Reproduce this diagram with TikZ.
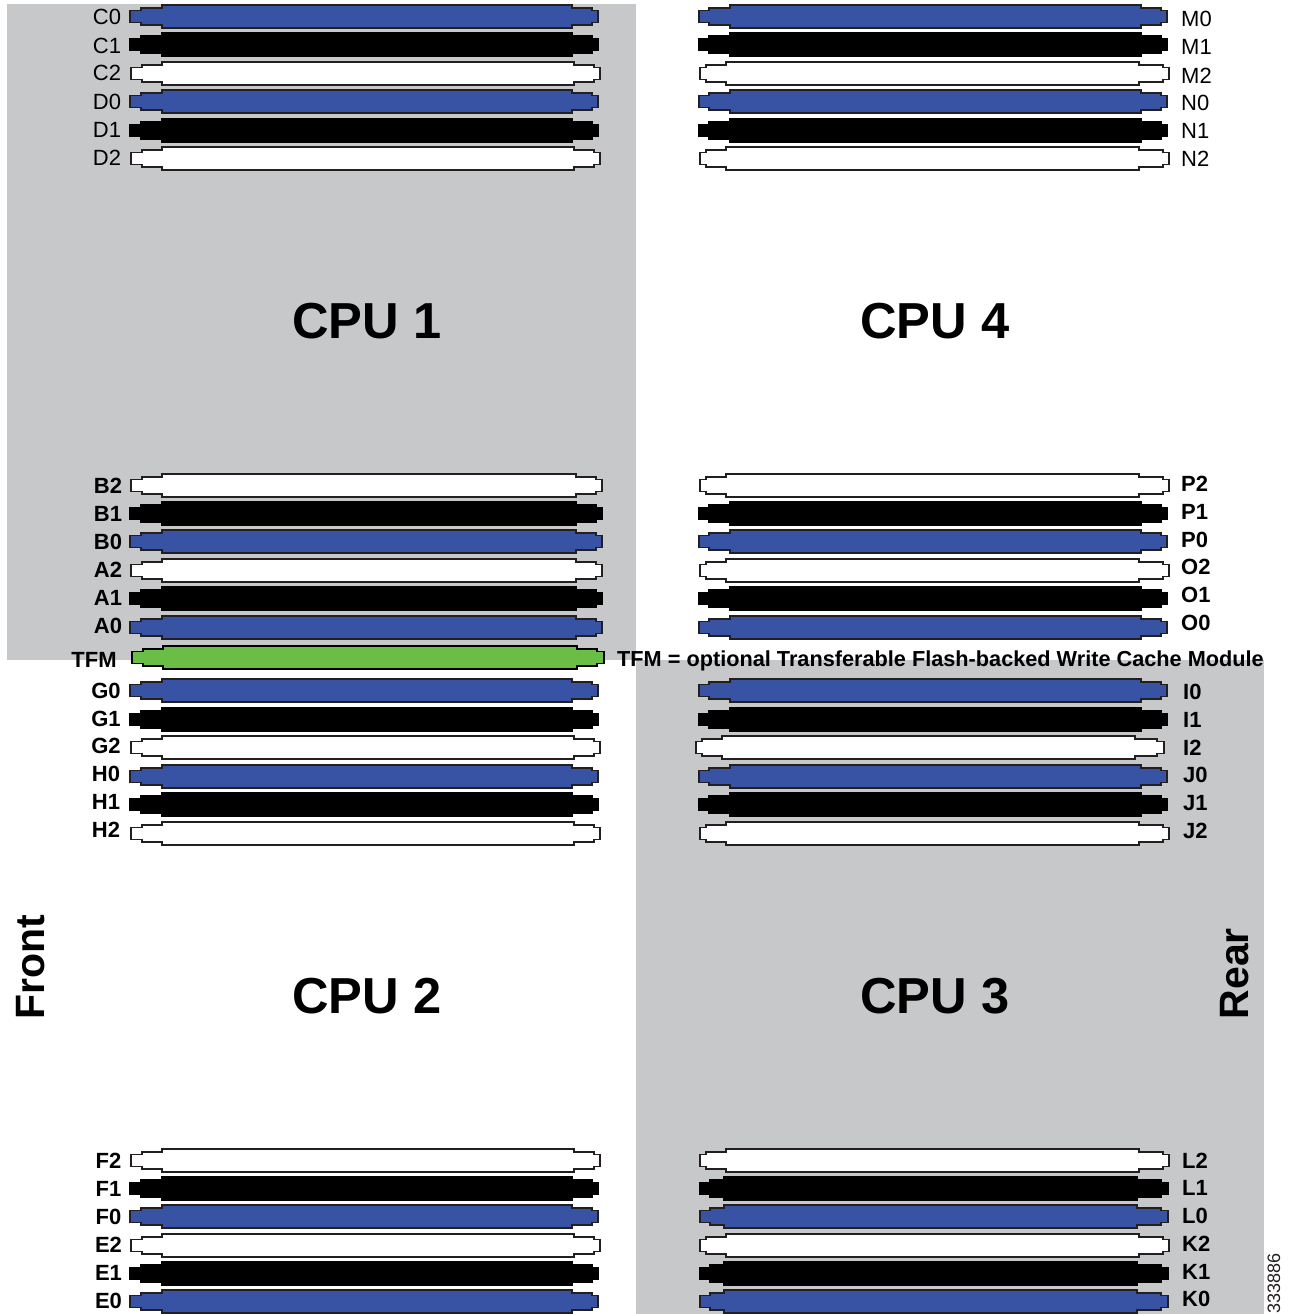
\documentclass[tikz,border=0pt]{standalone}
\usepackage{fontspec}
\setmainfont{Liberation Sans}
\definecolor{cpugray}{HTML}{C7C8CA}
\definecolor{dimmblue}{HTML}{3953A4}
\definecolor{dimmgreen}{HTML}{6ABD45}
\definecolor{dimmline}{HTML}{231F20}
\tikzset{
  dimmB/.style={fill=dimmblue,draw=dimmline,line width=1.3pt,line join=miter},
  dimmK/.style={fill=black,draw=black,line width=1.3pt,line join=miter},
  dimmW/.style={fill=white,draw=dimmline,line width=1.3pt,line join=miter},
  dimmG/.style={fill=dimmgreen,draw=black,line width=1.5pt,line join=miter},
  cpuzone/.style={fill=cpugray,draw=none},
  lblreg/.style={font=\fontsize{22}{22}\selectfont,inner sep=0pt,text=black},
  lblL/.style={font=\fontsize{22}{22}\selectfont\bfseries,inner sep=0pt,text=black},
  cputext/.style={font=\fontsize{50.6}{51}\selectfont\bfseries,inner sep=0pt,anchor=base west},
  sidetext/.style={font=\fontsize{41}{41}\selectfont\bfseries,inner sep=0pt,rotate=90,anchor=base west},
}
% style, y, tail-left, tail-end, mid-end (main start), main end, mid end, tail right
\newcommand{\dimmslot}[8]{%
  \path[#1] (#3,#2-5.5) -- (#4,#2-5.5) -- (#4,#2-8) -- (#5,#2-8) -- (#5,#2-11)
    -- (#6,#2-11) -- (#6,#2-8) -- (#7,#2-8) -- (#7,#2-5.5) -- (#8,#2-5.5)
    -- (#8,#2+6.5) -- (#7,#2+6.5) -- (#7,#2+9) -- (#6,#2+9) -- (#6,#2+12)
    -- (#5,#2+12) -- (#5,#2+9) -- (#4,#2+9) -- (#4,#2+6.5) -- (#3,#2+6.5) -- cycle;%
}
\begin{document}
\begin{tikzpicture}[x=1pt,y=-1pt]
\useasboundingbox (0,0) rectangle (1288,1314);
\fill[white] (0,0) rectangle (1288,1314);
\path[cpuzone] (7,4) rectangle (636,659.5);
\path[cpuzone] (636,659.5) rectangle (1264,1314);

% left column slots
\foreach \s/\y in {dimmB/16,dimmK/44,dimmB/101,dimmK/130,dimmB/690,dimmK/719,dimmB/776,dimmK/804,dimmK/1188,dimmB/1216,dimmK/1273,dimmB/1301}
  {\dimmslot{\s}{\y}{130}{141}{162}{572}{592}{598}}
\foreach \y in {73,158,747,833,1160,1245}
  {\dimmslot{dimmW}{\y}{131}{142}{162}{574}{594}{600}}
\foreach \s/\y in {dimmK/513,dimmB/541,dimmK/598,dimmB/627}
  {\dimmslot{\s}{\y}{130}{141}{162}{576}{596}{602}}
\foreach \y in {485,570}
  {\dimmslot{dimmW}{\y}{131}{142}{162}{576}{596}{602}}
\dimmslot{dimmG}{657}{132}{143}{163}{577}{597}{604}

% right column slots
\foreach \s/\y in {dimmB/16,dimmK/44,dimmB/101,dimmK/130,dimmB/541,dimmK/513,dimmK/598,dimmB/627,dimmB/690,dimmK/719,dimmB/776,dimmK/804}
  {\dimmslot{\s}{\y}{699}{709}{730}{1141}{1161}{1167}}
\foreach \y in {73,158,485,570,833}
  {\dimmslot{dimmW}{\y}{700}{706}{726}{1139}{1163}{1169}}
\dimmslot{dimmW}{747}{696}{702}{722}{1135}{1157}{1164}
\foreach \s/\y in {dimmK/1188,dimmB/1216,dimmK/1273,dimmB/1301}
  {\dimmslot{\s}{\y}{700}{710}{724}{1137}{1161}{1168}}
\foreach \y in {1160,1245}
  {\dimmslot{dimmW}{\y}{700}{706}{726}{1139}{1163}{1169}}

% regular labels
\foreach \t/\y in {C0/18,C1/46,C2/74,D0/102,D1/130,D2/158}
  {\node[lblreg,anchor=base] (lbl\t) at (107,\y+7) {\t};}
\foreach \t/\y in {M0/20,M1/48,M2/76,N0/103,N1/131,N2/159}
  {\node[lblreg,anchor=base west] (lbl\t) at (1181,\y+7) {\t};}

% bold labels
\foreach \t/\y in {B2/486,B1/514,B0/542,A2/570,A1/598,A0/626}
  {\node[lblL,anchor=base] (lbl\t) at (108,\y+7) {\t};}
\node[lblL,anchor=base] (lblTFM) at (94,667) {TFM};
\foreach \t/\y in {G0/691,G1/719,G2/746,H0/774,H1/802,H2/830}
  {\node[lblL,anchor=base] (lbl\t) at (106,\y+7) {\t};}
\foreach \t/\y in {F2/1161,F1/1189,F0/1217,E2/1245,E1/1273,E0/1301}
  {\node[lblL,anchor=base] (lbl\t) at (108.5,\y+7) {\t};}
\foreach \t/\y in {P2/484,P1/512,P0/540,O2/567,O1/595,O0/623}
  {\node[lblL,anchor=base west] (lbl\t) at (1181,\y+7) {\t};}
\foreach \t/\y in {I0/692,I1/720,I2/748,J0/775,J1/803,J2/831}
  {\node[lblL,anchor=base west] (lbl\t) at (1183,\y+7) {\t};}
\foreach \t/\y in {L2/1161,L1/1188,L0/1216,K2/1244,K1/1272,K0/1299}
  {\node[lblL,anchor=base west] (lbl\t) at (1182,\y+7) {\t};}

\node[lblL,anchor=base west,font=\fontsize{21.7}{22}\selectfont\bfseries] (tfmnote) at (617,666) {TFM = optional Transferable Flash-backed Write Cache Module};

\node[cputext] (cpuone) at (292,338) {CPU 1};
\node[cputext] (cpufour) at (860,338) {CPU 4};
\node[cputext] (cputwo) at (292,1013) {CPU 2};
\node[cputext] (cputhree) at (860,1013) {CPU 3};

\node[sidetext] (front) at (44.5,1019.5) {Front};
\node[sidetext] (rear) at (1248,1019.5) {Rear};
\node[font=\fontsize{18}{18}\selectfont,inner sep=0pt,rotate=90,anchor=base west,text=dimmline] (figid) at (1280,1314) {333886};
\end{tikzpicture}
\end{document}
